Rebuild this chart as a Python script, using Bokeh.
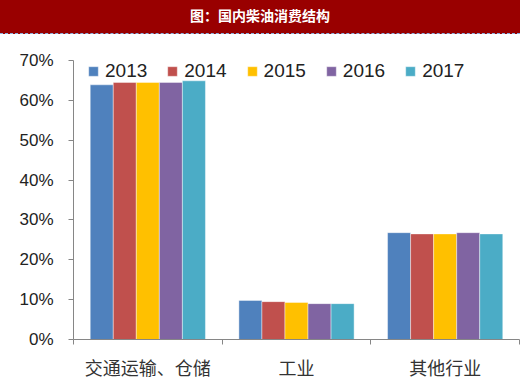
from bokeh.plotting import figure
from bokeh.models import ColumnDataSource, FixedTicker, NumeralTickFormatter, Range1d, Div
from bokeh.transform import dodge
from bokeh.layouts import column
from bokeh.embed import file_html
from bokeh.resources import INLINE

title_text = "图：国内柴油消费结构"
categories = ["交通运输、仓储", "工业", "其他行业"]
years = ["2013", "2014", "2015", "2016", "2017"]
v2013 = [0.639, 0.098, 0.268]
v2014 = [0.645, 0.095, 0.265]
v2015 = [0.645, 0.093, 0.265]
v2016 = [0.645, 0.090, 0.268]
v2017 = [0.649, 0.090, 0.265]
y_ticks = [0.0, 0.1, 0.2, 0.3, 0.4, 0.5, 0.6, 0.7]
colors = ["#4F81BD", "#C0504D", "#FFC000", "#8064A2", "#4BACC6"]

series = [v2013, v2014, v2015, v2016, v2017]
xc = [i + 0.5 for i in range(len(categories))]
data = {"x": xc}
for yr, vals in zip(years, series):
    data["y" + yr] = vals
src = ColumnDataSource(data)

header = Div(
    text=title_text, width=520, height=34, margin=0,
    styles={
        "background-color": "#990000", "color": "white",
        "font-family": "Noto Sans CJK SC", "font-weight": "bold",
        "font-size": "14px", "text-align": "center", "line-height": "31px",
        "border-bottom": "1px dashed #8DB4E2", "box-sizing": "border-box",
    },
)

p = figure(width=520, height=352, x_range=Range1d(0, len(categories)),
           y_range=Range1d(y_ticks[0], y_ticks[-1]),
           output_backend="svg", toolbar_location=None,
           min_border_left=73, min_border_right=1, min_border_top=26,
           min_border_bottom=47)
p.outline_line_color = None
p.xgrid.grid_line_color = None
p.ygrid.grid_line_color = None

bw = 0.155
n = len(years)
for i, (yr, col) in enumerate(zip(years, colors)):
    off = (i - (n - 1) / 2) * bw
    p.vbar(x=dodge("x", off, range=p.x_range), top="y" + yr, width=bw, source=src,
           fill_color=col, line_color="white", line_width=0.7, line_alpha=0.6,
           legend_label=yr)

# x axis
xa = p.xaxis[0]
xa.ticker = FixedTicker(ticks=xc, minor_ticks=list(range(len(categories) + 1)))
xa.major_label_overrides = {x: c for x, c in zip(xc, categories)}
xa.major_tick_out = 0
xa.major_tick_in = 0
xa.minor_tick_out = 5
xa.minor_tick_in = 0
xa.minor_tick_line_color = "#868686"
xa.axis_line_color = "#868686"
xa.major_label_text_font = "Noto Sans CJK SC"
xa.major_label_text_font_size = "18px"
xa.major_label_text_color = "#333333"
xa.major_label_standoff = 9

# y axis
ya = p.yaxis[0]
ya.ticker = FixedTicker(ticks=y_ticks)
ya.formatter = NumeralTickFormatter(format="0%")
ya.major_tick_out = 5
ya.major_tick_in = 0
ya.minor_tick_line_color = None
ya.major_tick_line_color = "#868686"
ya.axis_line_color = "#868686"
ya.major_label_text_font = "Liberation Sans"
ya.major_label_text_font_size = "17px"
ya.major_label_text_color = "#222222"
ya.major_label_standoff = 15

lg = p.legend[0]
lg.orientation = "horizontal"
lg.location = (14, 257)
lg.padding = 0
lg.margin = 0
lg.spacing = 19
lg.glyph_width = 12
lg.glyph_height = 12
lg.label_standoff = 6
lg.label_text_font = "Liberation Sans"
lg.label_text_font_size = "19px"
lg.label_text_color = "#222222"
lg.background_fill_alpha = 0
lg.border_line_color = None

layout = column(header, p, spacing=0)
open("out.html", "w").write(file_html(layout, INLINE))
